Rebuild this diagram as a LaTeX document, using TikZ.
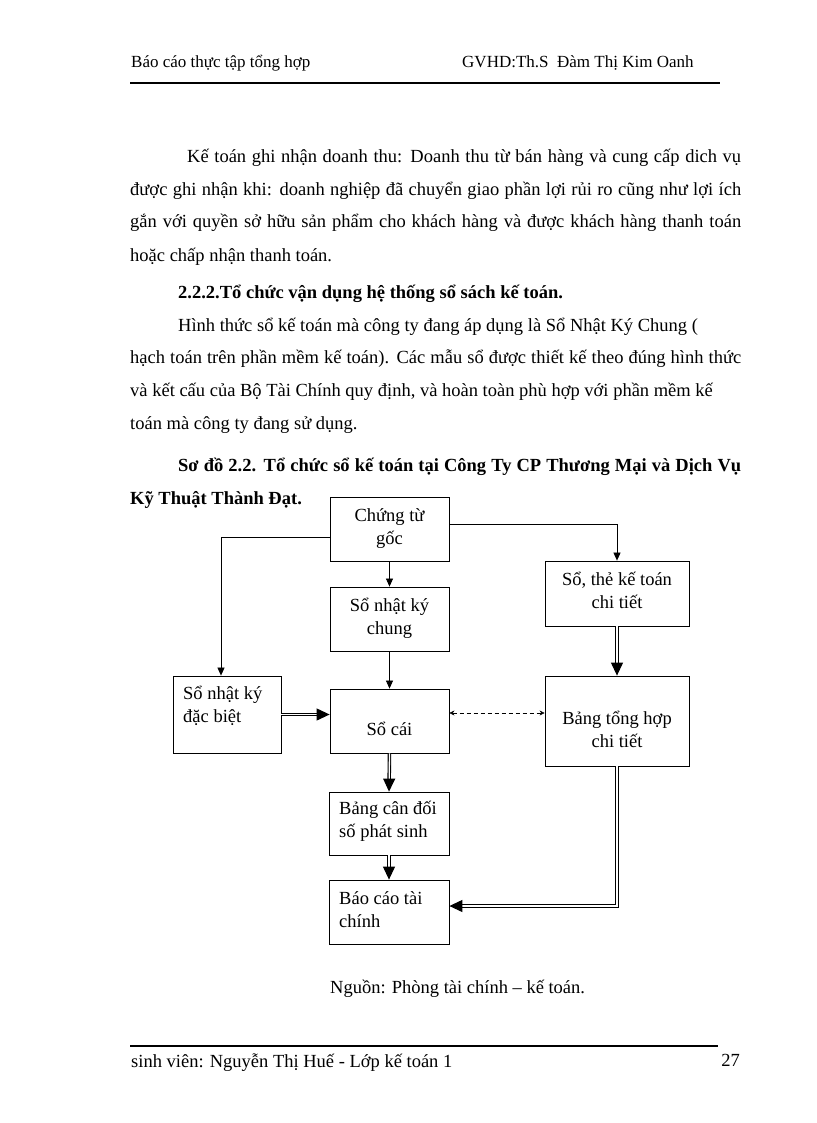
\documentclass[tikz,border=0pt]{standalone}
\usepackage{fontspec}
\setmainfont{Liberation Serif}
\usetikzlibrary{arrows.meta}
\begin{document}
\begin{tikzpicture}[x=1pt,y=-1pt,
  box/.style={draw, line width=0.8pt, inner sep=0pt},
  btxt/.style={font=\fontsize{18.5}{23}\selectfont, inner sep=0pt},
  body/.style={font=\fontsize{18.5}{21}\selectfont, anchor=base west, inner sep=0pt},
  bodyb/.style={body, font=\fontsize{18.5}{21}\selectfont\bfseries},
  small/.style={body, font=\fontsize{17}{20}\selectfont},
  arr/.style={line width=0.7pt, -{Triangle[length=8pt,width=7pt]}},
  dblarr/.style={line width=1.1pt, double, double distance=1.3pt, -{Triangle[length=13pt,width=12pt]}},
  dasharr/.style={line width=0.6pt, dash pattern=on 4pt off 3pt, {Stealth[length=5pt,width=5pt]}-{Stealth[length=5pt,width=5pt]}}
]
\useasboundingbox[fill=white] (0,0) rectangle (816,1123);

% header
\node[small] (h1) at (131,68) {Báo cáo thực tập tổng hợp};
\node[small] (h2) at (462,68) {GVHD:Th.S\ \ Đàm Thị Kim Oanh};
\coordinate (hl1) at (130,83);
\coordinate (hl2) at (720,83);
\draw[line width=2.2pt] (hl1) -- (hl2);

% body text
\node[body] (p1) at (187,163) {\makebox[554pt][s]{Kế toán ghi nhận doanh thu: Doanh thu từ bán hàng và cung cấp dich vụ}};
\node[body] (p2) at (130,196) {\makebox[611pt][s]{được ghi nhận khi: doanh nghiệp đã chuyển giao phần lợi rủi ro cũng như lợi ích}};
\node[body] (p3) at (130,228) {\makebox[611pt][s]{gắn với quyền sở hữu sản phẩm cho khách hàng và được khách hàng thanh toán}};
\node[body] (p4) at (130,261) {hoặc chấp nhận thanh toán.};
\node[bodyb] (p5) at (178,298) {2.2.2.Tổ chức vận dụng hệ thống sổ sách kế toán.};
\node[body] (p6) at (178,331) {Hình thức sổ kế toán mà công ty đang áp dụng là Sổ Nhật Ký Chung (};
\node[body] (p7) at (130,363) {\makebox[611pt][s]{hạch toán trên phần mềm kế toán). Các mẫu sổ được thiết kế theo đúng hình thức}};
\node[body] (p8) at (130,396) {và kết cấu của Bộ Tài Chính quy định, và hoàn toàn phù hợp với phần mềm kế};
\node[body] (p9) at (130,429) {toán mà công ty đang sử dụng.};
\node[bodyb] (p10) at (178,471) {\makebox[563pt][s]{Sơ đồ 2.2. Tổ chức sổ kế toán tại Công Ty CP Thương Mại và Dịch Vụ}};
\node[bodyb] (p11) at (130,504) {Kỹ Thuật Thành Đạt.};

% boxes
\node[box, minimum width=119pt, minimum height=64pt] (cg) at (389.5,529) {};
\node[box, minimum width=119pt, minimum height=64pt] (nkc) at (389.5,619) {};
\node[box, minimum width=144pt, minimum height=65pt] (stk) at (617,593.5) {};
\node[box, minimum width=108pt, minimum height=77pt] (nkdb) at (227,714.5) {};
\node[box, minimum width=119pt, minimum height=64pt] (sc) at (389.5,721) {};
\node[box, minimum width=144pt, minimum height=90pt] (bth) at (617,721) {};
\node[box, minimum width=120pt, minimum height=63pt] (bcd) at (389,823.5) {};
\node[box, minimum width=120pt, minimum height=64pt] (bctc) at (389,912) {};

% box texts
\node[btxt, align=center] (tcg) at (389.5,529) {Chứng từ\\gốc};
\node[btxt, align=center] (tnkc) at (389.5,618) {Sổ nhật ký\\chung};
\node[btxt, align=center] (tstk) at (617,590) {Sổ, thẻ kế toán\\chi tiết};
\node[btxt, align=left, anchor=west] (tnkdb) at (183,706) {Sổ nhật ký\\đặc biệt};
\node[btxt, align=center] (tsc) at (389.5,729) {Sổ cái};
\node[btxt, align=center] (tbth) at (617,729) {Bảng tổng hợp\\chi tiết};
\node[btxt, align=left, anchor=west] (tbcd) at (339,821) {Bảng cân đối\\số phát sinh};
\node[btxt, align=left, anchor=west] (tbctc) at (339,910) {Báo cáo tài\\chính};

% connectors
\draw[arr] ([yshift=-8pt]cg.west) -| ([xshift=-6pt]nkdb.north);
\draw[arr] ([yshift=5pt]cg.east) -| (stk.north);
\draw[arr] (cg.south) -- (nkc.north);
\draw[arr] (nkc.south) -- (sc.north);
\draw[dblarr] (nkdb.east) -- (nkdb.east -| sc.west);
\draw[dasharr] ([yshift=8pt]sc.east) -- ([yshift=8pt]bth.west);
\draw[dblarr] (stk.south) -- (bth.north);
\draw[dblarr] (sc.south) -- (bcd.north);
\draw[dblarr] (bcd.south) -- (bctc.north);
\draw[dblarr] (bth.south) |- ([yshift=6pt]bctc.east);

% caption
\node[body] (cap) at (330,993) {Nguồn: Phòng tài chính – kế toán.};

% footer
\coordinate (fl1) at (130,1046);
\coordinate (fl2) at (718,1046);
\draw[line width=2.5pt] (fl1) -- (fl2);
\node[body] (f1) at (131,1067) {sinh viên: Nguyễn Thị Huế - Lớp kế toán 1};
\node[body, anchor=base east] (f2) at (740,1066) {27};
\end{tikzpicture}
\end{document}
